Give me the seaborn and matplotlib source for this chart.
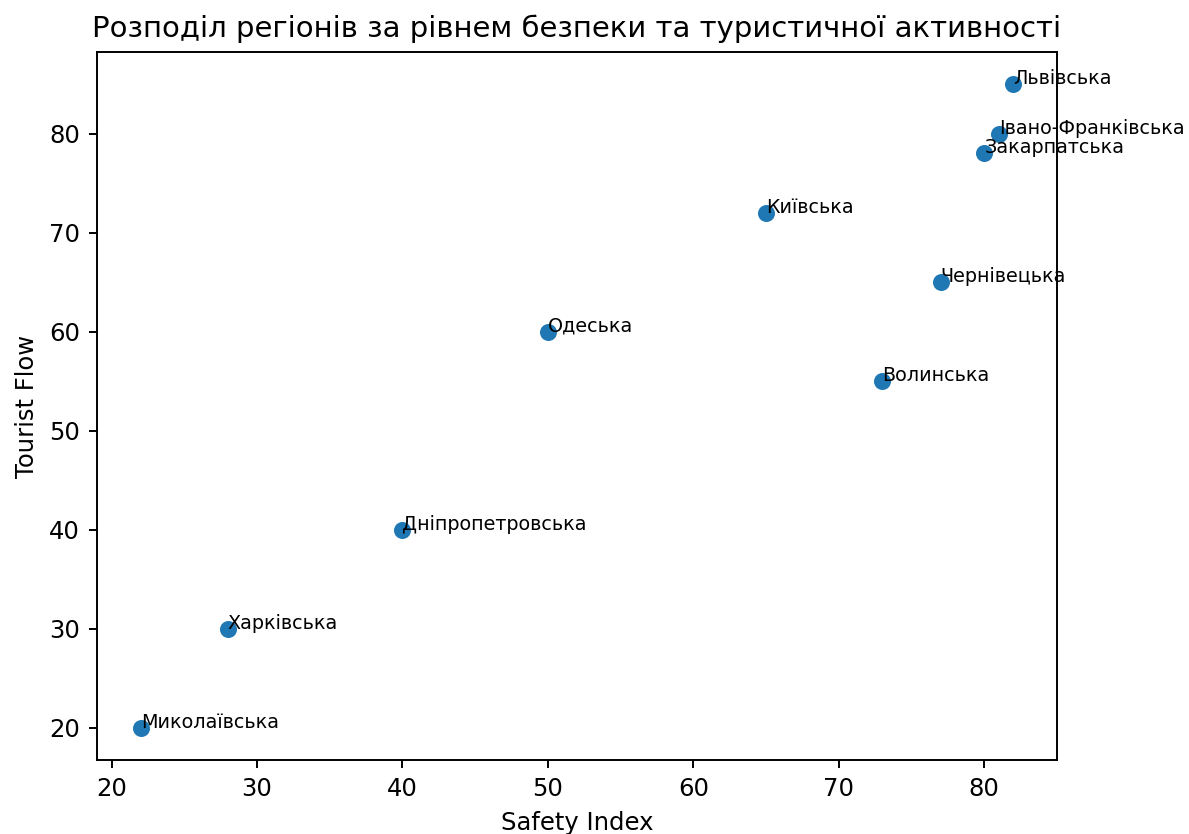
import matplotlib
matplotlib.use("Agg")
import matplotlib.pyplot as plt
import seaborn as sns
import pandas as pd

regions = ["Львівська", "Івано-Франківська", "Закарпатська", "Київська", "Чернівецька",
           "Одеська", "Волинська", "Дніпропетровська", "Харківська", "Миколаївська"]
safety_index = [82, 81, 80, 65, 77, 50, 73, 40, 28, 22]
tourist_flow = [85, 80, 78, 72, 65, 60, 55, 40, 30, 20]

df = pd.DataFrame({"Region": regions, "Safety Index": safety_index, "Tourist Flow": tourist_flow})

k = 0.91
plt.rcParams.update({
    "font.size": 10 * k,
    "axes.titlesize": 12 * k,
    "axes.labelsize": 10 * k,
    "xtick.labelsize": 10 * k,
    "ytick.labelsize": 10 * k,
    "axes.linewidth": 0.8 * k,
    "xtick.major.width": 0.8 * k,
    "ytick.major.width": 0.8 * k,
    "xtick.major.size": 3.5 * k,
    "ytick.major.size": 3.5 * k,
    "xtick.major.pad": 3.5 * k,
    "ytick.major.pad": 3.5 * k,
    "axes.titlepad": 6 * k,
    "axes.labelpad": 4 * k,
})

dpi = 192
fig, ax = plt.subplots(figsize=(1189 / dpi, 834 / dpi), dpi=dpi)
fig.subplots_adjust(left=97 / 1189, right=1057 / 1189, top=1 - 52 / 834, bottom=1 - 760 / 834)

sns.scatterplot(data=df, x="Safety Index", y="Tourist Flow", ax=ax, s=36 * k * k,
                color="#1f77b4", edgecolor="#1f77b4", linewidth=1.0 * k)
for r, x, y in zip(regions, safety_index, tourist_flow):
    ax.text(x, y, r, fontsize=8 * 0.9)

ax.set_title("Розподіл регіонів за рівнем безпеки та туристичної активності")
fig.savefig("out.png", dpi=dpi)
